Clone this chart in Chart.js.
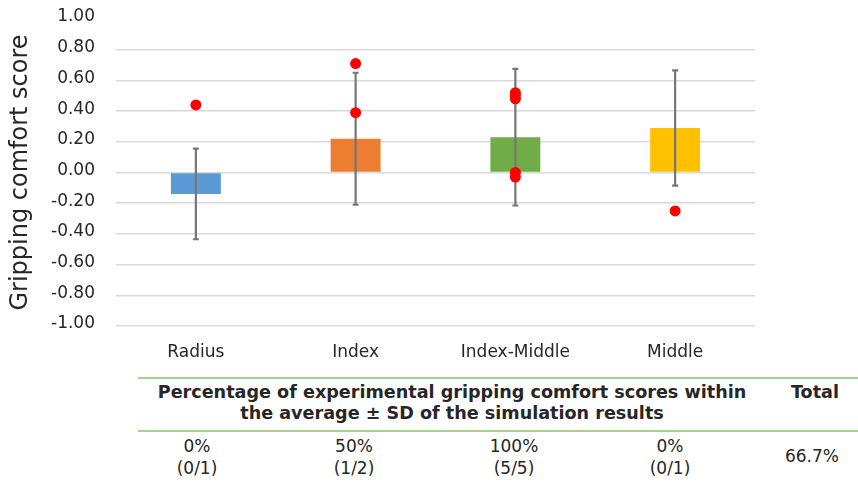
<!DOCTYPE html>
<html>
<head>
<meta charset="utf-8">
<script src="https://cdn.jsdelivr.net/npm/chart.js@4/dist/chart.umd.min.js"></script>
<style>
  html, body { margin: 0; padding: 0; background: #fff; }
  #wrap { position: relative; width: 858px; height: 482px; overflow: hidden; font-family: 'DejaVu Sans', Verdana, sans-serif; color: #262626; }
  #chartBox { position: absolute; left: 0; top: 0; width: 858px; height: 370px; }
  .rule { position: absolute; left: 138px; right: 0; height: 2px; background: #a9d18e; }
  .txt { position: absolute; white-space: nowrap; transform: translate(-50%, -50%); font-size: 17px; line-height: 22px; text-align: center; }
  .bold { font-weight: bold; font-size: 17.6px; }
</style>
</head>
<body>
<div id="wrap">
  <div id="chartBox"><canvas id="c" width="858" height="370"></canvas></div>
  <div id="table"></div>
</div>
<script>
// Finger positions compared
const categories = ['Radius', 'Index', 'Index-Middle', 'Middle'];
// Simulated gripping comfort score: mean and standard deviation
const simMean = [-0.14, 0.22, 0.23, 0.29];
const simSD = [0.295, 0.43, 0.445, 0.375];
// Experimental gripping comfort scores (one entry per participant result)
const expCategory = ['Radius', 'Index', 'Index', 'Index-Middle', 'Index-Middle', 'Index-Middle', 'Index-Middle', 'Index-Middle', 'Middle'];
const expScore = [0.44, 0.71, 0.39, 0.52, 0.50, 0.48, 0.00, -0.03, -0.25];
// Y axis ticks
const yTicks = [-1.0, -0.8, -0.6, -0.4, -0.2, 0.0, 0.2, 0.4, 0.6, 0.8, 1.0];
// Agreement table
const withinPct = ['0%', '50%', '100%', '0%'];
const withinCount = ['(0/1)', '(1/2)', '(5/5)', '(0/1)'];
const totalPct = '66.7%';
const headerLines = ['Percentage of experimental gripping comfort scores within', 'the average \u00b1 SD of the simulation results'];
const totalHeader = 'Total';

const barColors = ['#5B9BD5', '#ED7D31', '#70AD47', '#FFC000'];
const FONT = "'DejaVu Sans', Verdana, sans-serif";

// Error bars (mean ± SD) drawn on top of the bar dataset
const errorBars = {
  id: 'errorBars',
  afterDatasetDraw(chart, args) {
    if (args.index !== 1) return;
    const ctx = chart.ctx, x = chart.scales.x, y = chart.scales.y;
    ctx.save();
    ctx.strokeStyle = '#767676';
    ctx.lineWidth = 2.2;
    simMean.forEach((m, i) => {
      const px = x.getPixelForValue(i);
      const top = y.getPixelForValue(m + simSD[i]);
      const bot = y.getPixelForValue(m - simSD[i]);
      ctx.beginPath();
      ctx.moveTo(px, top); ctx.lineTo(px, bot);
      ctx.moveTo(px - 3, top); ctx.lineTo(px + 3, top);
      ctx.moveTo(px - 3, bot); ctx.lineTo(px + 3, bot);
      ctx.stroke();
    });
    ctx.restore();
  }
};

new Chart(document.getElementById('c'), {
  type: 'bar',
  data: {
    labels: categories,
    datasets: [
      {
        type: 'line',
        label: 'Experiment',
        data: expScore.map((v, i) => ({ x: expCategory[i], y: v })),
        showLine: false,
        pointRadius: 5.5,
        pointBackgroundColor: '#FF0000',
        pointBorderWidth: 0,
        pointBorderColor: '#FF0000',
        order: 1
      },
      {
        type: 'bar',
        label: 'Simulation',
        data: simMean,
        backgroundColor: barColors,
        borderWidth: 0,
        categoryPercentage: 1,
        barPercentage: 0.3125,
        order: 2
      }
    ]
  },
  options: {
    responsive: false,
    animation: false,
    events: [],
    layout: { padding: { top: 19, right: 103, left: 0, bottom: 0 } },
    plugins: { legend: { display: false }, tooltip: { enabled: false } },
    scales: {
      x: {
        grid: { display: false, drawTicks: false },
        border: { display: false },
        ticks: { color: '#262626', font: { family: FONT, size: 17 }, padding: 16, maxRotation: 0 },
        afterFit(s) { s.height = 44; }
      },
      y: {
        min: -1, max: 1,
        afterBuildTicks(s) { s.ticks = yTicks.map(v => ({ value: v })); },
        grid: {
          drawTicks: false,
          color: ctx => (ctx.tick && ctx.tick.value >= 0.999) ? 'rgba(0,0,0,0)' : '#d9d9d9',
          lineWidth: 1.6
        },
        border: { display: false },
        ticks: {
          color: '#262626',
          font: { family: FONT, size: 17 },
          padding: 21,
          labelOffset: -2,
          callback: v => Number(v).toFixed(2)
        },
        title: {
          display: true,
          text: 'Gripping comfort score',
          color: '#262626',
          font: { family: FONT, size: 24 },
          padding: { top: 6, bottom: 0 }
        },
        afterFit(s) { s.width = 116; s.paddingTop = 0; s.paddingBottom = 0; }
      }
    }
  },
  plugins: [errorBars]
});

// Agreement table under the chart
const table = document.getElementById('table');
function addRule(top) {
  const d = document.createElement('div');
  d.className = 'rule'; d.style.top = top + 'px';
  table.appendChild(d);
}
function addText(text, cx, cy, bold) {
  const d = document.createElement('div');
  d.className = 'txt' + (bold ? ' bold' : '');
  d.style.left = cx + 'px'; d.style.top = cy + 'px';
  d.textContent = text;
  table.appendChild(d);
}
addRule(377);
addRule(430);
addText(headerLines[0], 452, 392, true);
addText(headerLines[1], 452, 413, true);
addText(totalHeader, 815, 392, true);
const cellCenters = [197, 354, 514, 670];
withinPct.forEach((t, i) => {
  addText(t, cellCenters[i], 446, false);
  addText(withinCount[i], cellCenters[i], 468, false);
});
addText(totalPct, 812, 456, false);
</script>
</body>
</html>
